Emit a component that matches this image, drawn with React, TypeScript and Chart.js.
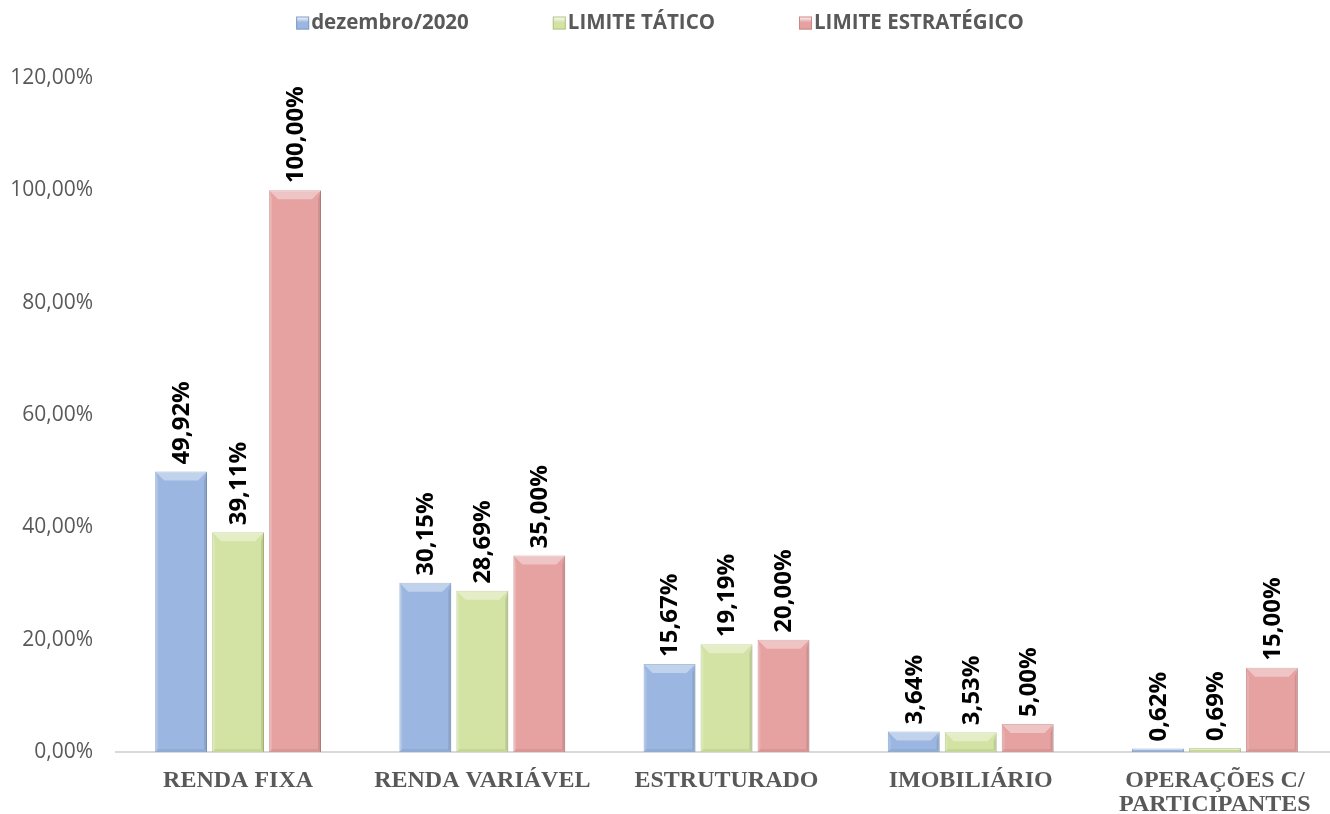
import React, { useEffect, useRef } from "react";
import { Chart, registerables } from "chart.js";

Chart.register(...registerables);

const categories: (string | string[])[] = [
  "RENDA FIXA",
  "RENDA VARIÁVEL",
  "ESTRUTURADO",
  "IMOBILIÁRIO",
  ["OPERAÇÕES C/", "PARTICIPANTES"],
];
const dezembro2020 = [49.92, 30.15, 15.67, 3.64, 0.62];
const limiteTatico = [39.11, 28.69, 19.19, 3.53, 0.69];
const limiteEstrategico = [100.0, 35.0, 20.0, 5.0, 15.0];
const seriesNames = ["dezembro/2020", "LIMITE TÁTICO", "LIMITE ESTRATÉGICO"];
const yTicks = [0, 20, 40, 60, 80, 100, 120];

const fills = ["#9bb7e1", "#d3e3a4", "#e6a1a1"];
const borders = ["#7f9cc6", "#b2c386", "#c98686"];

const fmt = (v: number) => v.toFixed(2).replace(".", ",") + "%";

const bevelPlugin = {
  id: "bevel",
  afterDatasetsDraw(chart: any) {
    const ctx = chart.ctx;
    chart.data.datasets.forEach((ds: any, di: number) => {
      const meta = chart.getDatasetMeta(di);
      meta.data.forEach((el: any) => {
        const { x, y, base, width } = el.getProps(["x", "y", "base", "width"], true);
        const l = x - width / 2;
        const r = x + width / 2;
        const t = y;
        const b = base;
        const h = b - t;
        const bt = Math.min(9, h / 2);
        const bs = Math.min(3, h / 2);
        ctx.save();
        ctx.beginPath();
        ctx.moveTo(l, t);
        ctx.lineTo(r, t);
        ctx.lineTo(r - bt, t + bt);
        ctx.lineTo(l + bt, t + bt);
        ctx.closePath();
        ctx.fillStyle = "rgba(255,255,255,0.38)";
        ctx.fill();
        ctx.beginPath();
        ctx.moveTo(l, t);
        ctx.lineTo(l + bs, t + bt);
        ctx.lineTo(l + bs, b - bs);
        ctx.lineTo(l, b);
        ctx.closePath();
        ctx.fillStyle = "rgba(255,255,255,0.15)";
        ctx.fill();
        ctx.beginPath();
        ctx.moveTo(r, t);
        ctx.lineTo(r - bs, t + bt);
        ctx.lineTo(r - bs, b - bs);
        ctx.lineTo(r, b);
        ctx.closePath();
        ctx.fillStyle = "rgba(0,0,0,0.10)";
        ctx.fill();
        ctx.beginPath();
        ctx.moveTo(l, b);
        ctx.lineTo(r, b);
        ctx.lineTo(r - bs, b - bs);
        ctx.lineTo(l + bs, b - bs);
        ctx.closePath();
        ctx.fillStyle = "rgba(0,0,0,0.06)";
        ctx.fill();
        ctx.restore();
      });
    });
  },
};

const labelPlugin = {
  id: "valueLabels",
  afterDatasetsDraw(chart: any) {
    const ctx = chart.ctx;
    ctx.save();
    ctx.font = "bold 24px 'Open Sans'";
    ctx.fillStyle = "#000000";
    ctx.textAlign = "left";
    ctx.textBaseline = "middle";
    chart.data.datasets.forEach((ds: any, di: number) => {
      const meta = chart.getDatasetMeta(di);
      meta.data.forEach((el: any, i: number) => {
        const { x, y } = el.getProps(["x", "y"], true);
        ctx.save();
        ctx.translate(x + 1, y - 7);
        ctx.rotate(-Math.PI / 2);
        ctx.fillText(fmt(ds.data[i]), 0, 0);
        ctx.restore();
      });
    });
    ctx.restore();
  },
};

const legendPlugin = {
  id: "customLegend",
  afterDraw(chart: any) {
    const ctx = chart.ctx;
    ctx.save();
    ctx.font = "bold 20.5px 'Open Sans'";
    ctx.textBaseline = "middle";
    ctx.textAlign = "left";
    const box = 13;
    const gapBT = 2;
    const gapItem = 84;
    const widths = chart.data.datasets.map((d: any) => ctx.measureText(d.label).width);
    const total =
      widths.reduce((a: number, w: number) => a + w + box + gapBT, 0) + gapItem * (widths.length - 1);
    let x = 660 - total / 2;
    const cy = 23;
    chart.data.datasets.forEach((d: any, i: number) => {
      const g = ctx.createLinearGradient(0, cy - box / 2, 0, cy + box / 2);
      g.addColorStop(0, "#ffffff");
      g.addColorStop(0.45, fills[i]);
      g.addColorStop(1, fills[i]);
      ctx.fillStyle = g;
      ctx.fillRect(x, cy - box / 2, box, box);
      ctx.strokeStyle = borders[i];
      ctx.lineWidth = 1;
      ctx.strokeRect(x + 0.5, cy - box / 2 + 0.5, box - 1, box - 1);
      x += box + gapBT;
      ctx.fillStyle = "#595959";
      ctx.fillText(d.label, x, cy);
      x += widths[i] + gapItem;
    });
    ctx.restore();
  },
};

export default function App() {
  const ref = useRef<HTMLCanvasElement | null>(null);
  useEffect(() => {
    if (!ref.current) return;
    const chart = new Chart(ref.current, {
      type: "bar",
      data: {
        labels: categories,
        datasets: [dezembro2020, limiteTatico, limiteEstrategico].map((data, i) => ({
          label: seriesNames[i],
          data,
          backgroundColor: fills[i],
          borderColor: borders[i],
          borderWidth: 1,
          categoryPercentage: 0.7,
          barPercentage: 0.91,
        })),
      },
      options: {
        animation: false,
        responsive: true,
        maintainAspectRatio: false,
        layout: { padding: { top: 78, right: 3, bottom: 0, left: 0 } },
        plugins: {
          legend: { display: false },
          tooltip: { enabled: false },
        },
        scales: {
          x: {
            grid: { display: false },
            border: { display: true, color: "#d9d9d9", width: 2 },
            ticks: {
              color: "#595959",
              font: { family: "'Liberation Serif'", size: 24, weight: "bold", lineHeight: 1.03 },
              padding: 8,
              maxRotation: 0,
              autoSkip: false,
            },
            afterFit: (s: any) => {
              s.height = 62;
            },
          },
          y: {
            min: 0,
            max: 120,
            afterBuildTicks: (s: any) => {
              s.ticks = yTicks.map((v) => ({ value: v }));
            },
            grid: { display: false },
            border: { display: false },
            ticks: {
              color: "#595959",
              font: { family: "'Open Sans'", size: 21 },
              padding: 15,
              callback: (v: any) => fmt(Number(v)),
            },
            afterFit: (s: any) => {
              s.width = 116;
            },
          },
        },
      },
      plugins: [bevelPlugin, labelPlugin, legendPlugin],
    });
    return () => chart.destroy();
  }, []);
  return (
    <div
      style={{
        position: "fixed",
        left: 0,
        top: 0,
        width: 1330,
        height: 814,
        overflow: "hidden",
        background: "#ffffff",
      }}
    >
      <div style={{ width: 1340, height: 814, position: "relative" }}>
        <canvas ref={ref} />
      </div>
    </div>
  );
}
